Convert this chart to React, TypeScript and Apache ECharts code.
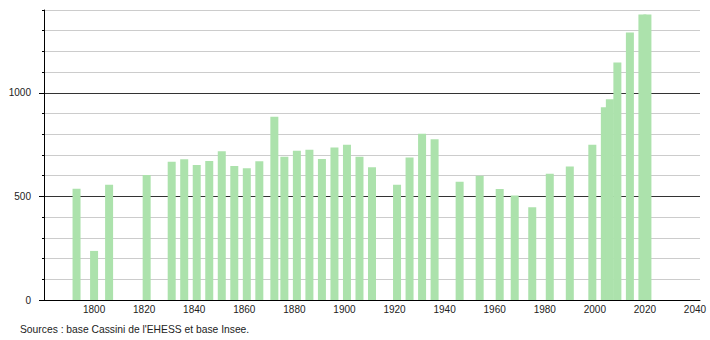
import React, { useEffect, useRef } from "react";
import * as echarts from "echarts";

const years = [
  1793, 1800, 1806, 1821, 1831, 1836, 1841, 1846, 1851, 1856, 1861, 1866, 1872, 1876, 1881, 1886, 1891, 1896,
  1901, 1906, 1911, 1921, 1926, 1931, 1936, 1946, 1954, 1962, 1968, 1975, 1982, 1990, 1999, 2004, 2006, 2009,
  2014, 2019, 2021,
];
const population = [
  537, 237, 556, 604, 667, 680, 652, 671, 718, 647, 636, 670, 885, 692, 720, 725, 681, 736,
  749, 692, 641, 556, 688, 802, 776, 571, 600, 536, 504, 448, 609, 644, 749, 931, 969, 1146,
  1291, 1378, 1378,
];
const xTickLabels = [1800, 1820, 1840, 1860, 1880, 1900, 1920, 1940, 1960, 1980, 2000, 2020, 2040];
const yTickLabels = [0, 500, 1000];
const sourceText = "Sources : base Cassini de l'EHESS et base Insee.";

export default function App() {
  const ref = useRef<HTMLDivElement>(null);
  useEffect(() => {
    if (!ref.current) return;
    const chart = echarts.init(ref.current, null, { renderer: "svg" });
    const font = "Liberation Sans, Arial, sans-serif";
    chart.setOption({
      animation: false,
      backgroundColor: "#ffffff",
      textStyle: { fontFamily: font },
      grid: { left: 44, right: 10, top: 10, bottom: 40, containLabel: false },
      xAxis: {
        type: "value",
        min: 1780,
        max: 2042,
        interval: 20,
        axisLine: { show: true, lineStyle: { color: "#000", width: 1 } },
        axisTick: { show: false },
        splitLine: { show: false },
        axisLabel: {
          margin: 4,
          fontSize: 10,
          color: "#222",
          fontFamily: font,
          customValues: xTickLabels,
          formatter: (v: number) => String(v),
        },
      },
      yAxis: [
        {
          type: "value",
          min: 0,
          max: 1400,
          interval: 100,
          position: "left",
          axisLine: { show: true, lineStyle: { color: "#000", width: 1 } },
          axisTick: { show: true, length: 2, lineStyle: { color: "#000" } },
          axisLabel: { show: false },
          splitLine: {
            show: true,
            lineStyle: { color: ["#333", "#cccccc", "#cccccc", "#cccccc", "#cccccc"], width: 1 },
          },
        },
        {
          type: "value",
          min: 0,
          max: 1400,
          position: "left",
          axisLine: { show: false },
          axisTick: { show: true, length: 5, lineStyle: { color: "#000" }, customValues: yTickLabels },
          splitLine: { show: false },
          axisLabel: {
            margin: 13,
            fontSize: 10,
            color: "#222",
            fontFamily: font,
            customValues: yTickLabels,
            formatter: (v: number) => String(v),
          },
        },
      ],
      series: [
        {
          type: "bar",
          xAxisIndex: 0,
          yAxisIndex: 0,
          barWidth: 8,
          itemStyle: { color: "#ace2ac" },
          data: years.map((y, i) => [y, population[i]]),
        },
      ],
      graphic: [
        {
          type: "text",
          left: 20,
          top: 324,
          style: { text: sourceText, fontSize: 10.3, fill: "#222", fontFamily: font },
        },
      ],
    });
    return () => chart.dispose();
  }, []);
  return <div ref={ref} style={{ position: "fixed", left: 0, top: 0, width: 710, height: 340 }} />;
}
